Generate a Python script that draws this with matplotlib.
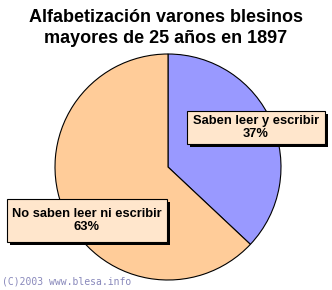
import matplotlib
matplotlib.use("Agg")
import matplotlib.pyplot as plt
from matplotlib.patches import Rectangle

title = "Alfabetización varones blesinos\nmayores de 25 años en 1897"
categories = ["Saben leer y escribir", "No saben leer ni escribir"]
values = [37, 63]
colors = ["#9999FF", "#FFCC99"]
footer = "(C)2003 www.blesa.info"

W, H = 332, 290
fig = plt.figure(figsize=(W / 100, H / 100), dpi=100)
ax = fig.add_axes([0, 0, 1, 1])
ax.set_xlim(0, W)
ax.set_ylim(0, H)
ax.axis("off")

cx, cy, r = 168, H - 167, 113
ax.pie(values, colors=colors, startangle=90, counterclock=False,
       center=(cx, cy), radius=r, frame=True,
       wedgeprops=dict(edgecolor="black", linewidth=0.8))
ax.set_xlim(0, W)
ax.set_ylim(0, H)
ax.set_aspect("equal")
ax.axis("off")

fig.text(0.5, 1 - 28 / H, title, ha="center", va="center", fontsize=13,
         fontweight="bold", family="Liberation Sans", linespacing=1.3)

boxes = [(187, 111, 325, 144), (7, 199, 167, 242)]
for (x0, y0, x1, y1), cat, v in zip(boxes, categories, values):
    ax.add_patch(Rectangle((x0 + 3, H - y1 - 3), x1 - x0, y1 - y0,
                           facecolor="black", edgecolor="none", zorder=5))
    ax.add_patch(Rectangle((x0, H - y1), x1 - x0, y1 - y0,
                           facecolor="#FFE6CC", edgecolor="black",
                           linewidth=0.8, zorder=6))
    ax.text((x0 + x1) / 2, H - (y0 + y1) / 2, f"{cat}\n{v}%", ha="center",
            va="center", fontsize=9.3, fontweight="bold",
            family="Liberation Sans", linespacing=1.15, zorder=7)

ax.text(2, H - 281, footer, ha="left", va="center", fontsize=7,
        family="DejaVu Sans Mono", color="#8888BB")

fig.savefig("out.png", dpi=100)
